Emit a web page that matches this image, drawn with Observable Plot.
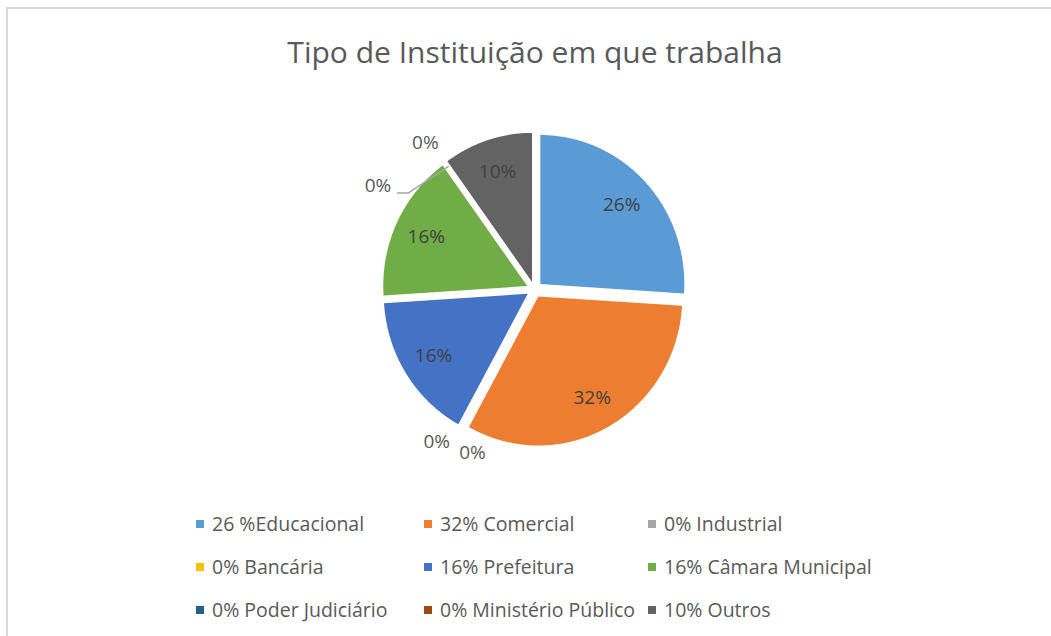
<!DOCTYPE html>
<html><head><meta charset="utf-8">
<script src="https://cdn.jsdelivr.net/npm/d3@7"></script>
<script src="https://cdn.jsdelivr.net/npm/@observablehq/plot@0.6"></script>
<style>
html,body{margin:0;padding:0;background:#fff;}
#page{position:relative;width:1051px;height:636px;overflow:hidden;font-family:"Open Sans",sans-serif;background:#fff;}
#frame{position:absolute;left:6px;top:7px;right:-10px;bottom:-10px;border-top:2px solid #d9d9d9;border-left:2px solid #d9d9d9;}
#title{position:absolute;left:0;width:1070px;top:37px;text-align:center;font-size:30px;line-height:30px;color:#595959;white-space:nowrap;}
#chart{position:absolute;left:0;top:0;}
#legend{position:absolute;left:196px;top:502px;display:grid;grid-template-columns:228px 224px auto;}
.item{display:flex;align-items:center;height:43px;font-size:19.5px;color:#595959;white-space:nowrap;line-height:43px;}
.sw{width:8px;height:8px;margin-right:8px;flex:none;}
</style></head><body>
<div id="page">
  <div id="frame"></div>
  <div id="chart"></div>
  <div id="title">Tipo de Instituição em que trabalha</div>
  <div id="legend"></div>
</div>
<script>
// ---- data ----
const names = ["Educacional","Comercial","Industrial","Bancária","Prefeitura","Câmara Municipal","Poder Judiciário","Ministério Público","Outros"];
const values = [26, 32, 0, 0, 16, 16, 0, 0, 10];
const legendLabels = ["26 %Educacional","32% Comercial","0% Industrial","0% Bancária","16% Prefeitura","16% Câmara Municipal","0% Poder Judiciário","0% Ministério Público","10% Outros"];
const colors = ["#5B9BD5","#ED7D31","#A5A5A5","#FFC000","#4472C4","#70AD47","#255E91","#9E480E","#636363"];

// ---- layout ----
const W = 1051, H = 636;
const cx = 534, cy = 289, rx = 144, ry = 149;  // pie centre and radii (px)
const explode = 8;        // px
const labelR = 0.775;     // inside label radius (fraction)
// placement nudges for the zero-value labels, in order of appearance: [degrees, radius]
const zeroNudge = [[-7.4, 1.18], [4.7, 1.23], [-21.4, 1.29], [-1.7, 1.24]];

const rows = names.map((n, i) => ({name: n, value: values[i]}));
const arcs = d3.pie().sort(null).value(d => d.value).startAngle(0).endAngle(2 * Math.PI)(rows);

const slicePts = [];
const insideLabels = [];
const zeroLabels = [];
const leaderPts = [];
let zi = 0;
for (const a of arcs) {
  const name = a.data.name;
  if (a.data.value > 0) {
    const mid = (a.startAngle + a.endAngle) / 2;
    const ox = explode * Math.sin(mid) / rx, oy = -explode * Math.cos(mid) / ry;
    slicePts.push({name, x: ox, y: oy});
    const n = Math.max(2, Math.ceil((a.endAngle - a.startAngle) / (Math.PI / 360)));
    for (let k = 0; k <= n; k++) {
      const t = a.startAngle + (a.endAngle - a.startAngle) * k / n;
      slicePts.push({name, x: ox + Math.sin(t), y: oy - Math.cos(t)});
    }
    insideLabels.push({name, text: a.data.value + "%", x: ox + labelR * Math.sin(mid), y: oy - labelR * Math.cos(mid)});
  } else {
    const [dDeg, r] = zeroNudge[zi++];
    const t = a.startAngle + dDeg * Math.PI / 180;
    const lx = r * Math.sin(t), ly = -r * Math.cos(t);
    zeroLabels.push({name, text: a.data.value + "%", x: lx, y: ly});
    if (Math.abs(dDeg) > 15) {
      // leader line: from right side of the label to the rim
      const half = 13.5;
      leaderPts.push({name, x: lx + (half + 6) / rx, y: ly + 7 / ry});
      leaderPts.push({name, x: lx + (half + 17) / rx, y: ly + 7 / ry});
      leaderPts.push({name, x: 1.02 * Math.sin(a.startAngle), y: -1.02 * Math.cos(a.startAngle)});
    }
  }
}

const chart = Plot.plot({
  width: W, height: H, margin: 0,
  x: {domain: [-1, 1], range: [cx - rx, cx + rx], axis: null},
  y: {domain: [-1, 1], range: [cy - ry, cy + ry], axis: null},
  color: {domain: names, range: colors},
  style: {background: "transparent", overflow: "visible"},
  marks: [
    Plot.line(slicePts, {x: "x", y: "y", z: "name", fill: "name", stroke: "none", curve: "linear-closed"}),
    Plot.line(leaderPts, {x: "x", y: "y", z: "name", stroke: "#a6a6a6", strokeWidth: 1.5, curve: "linear"}),
    Plot.text(insideLabels, {x: "x", y: "y", text: "text", fill: "#404040", fontSize: 19, fontFamily: "Open Sans"}),
    Plot.text(zeroLabels, {x: "x", y: "y", text: "text", fill: "#595959", fontSize: 19, fontFamily: "Open Sans"})
  ]
});
document.getElementById("chart").appendChild(chart);

// ---- legend ----
const legend = document.getElementById("legend");
legendLabels.forEach((lab, i) => {
  const item = document.createElement("div");
  item.className = "item";
  const sw = document.createElement("span");
  sw.className = "sw";
  sw.style.background = colors[i];
  const tx = document.createElement("span");
  tx.textContent = lab;
  item.appendChild(sw);
  item.appendChild(tx);
  legend.appendChild(item);
});
</script>
</body></html>
